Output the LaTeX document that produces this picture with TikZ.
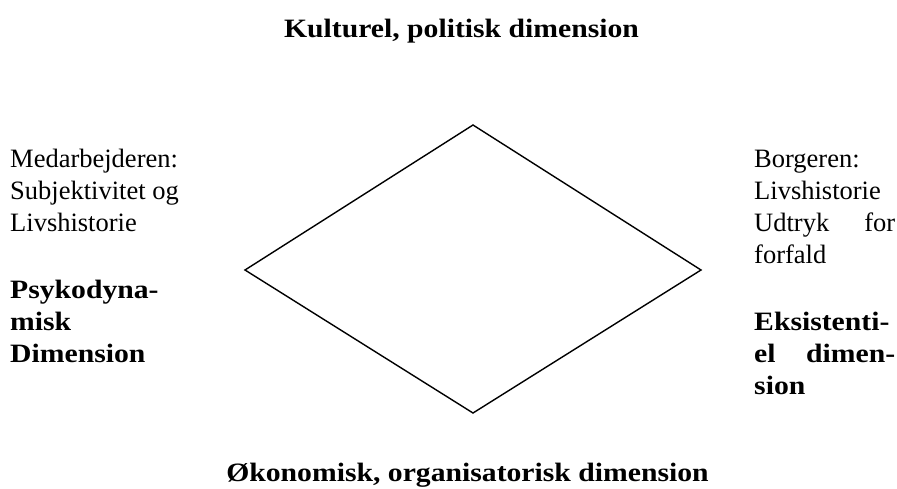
\documentclass[tikz,border=0pt]{standalone}
\usepackage{fontspec}
\setmainfont{Liberation Serif}[BoldFeatures={FakeStretch=1.12}]
\begin{document}
\begin{tikzpicture}[x=1pt,y=-1pt,
  txt/.style={inner sep=0pt, anchor=base west, font=\fontsize{26.5}{31}\selectfont},
  btxt/.style={txt, font=\fontsize{26.5}{31}\selectfont\bfseries},
  ttl/.style={inner sep=0pt, anchor=base, font=\fontsize{26.5}{31}\selectfont\bfseries},
  rhomb/.style={draw=black, line width=1.4pt, line join=miter}]
\useasboundingbox (0,0) rectangle (897,488);
% title texts
\node[ttl] (top) at (461.5,37) {Kulturel, politisk dimension};
\node[ttl] (bot) at (467.5,481) {Økonomisk, organisatorisk dimension};
% diamond
\coordinate (dT) at (473,125);
\coordinate (dR) at (701,270);
\coordinate (dB) at (473,413);
\coordinate (dL) at (245,270);
\draw[rhomb] (dT) -- (dR) -- (dB) -- (dL) -- cycle;
% left block
\node[txt] (l1) at (10,167) {Medarbejderen:};
\node[txt] (l2) at (10,199) {Subjektivitet og};
\node[txt] (l3) at (10,231) {Livshistorie};
\node[btxt] (l4) at (10,298) {Psykodyna-};
\node[btxt] (l5) at (10,330) {misk};
\node[btxt] (l6) at (10,362) {Dimension};
% right block
\node[txt] (r1) at (754,167) {Borgeren:};
\node[txt] (r2) at (754,199) {Livshistorie};
\node[txt] (r3) at (754,231) {\hbox to 141pt{Udtryk\hfill for}};
\node[txt] (r4) at (754,263) {forfald};
\node[btxt] (r5) at (754,330) {Eksistenti-};
\node[btxt] (r6) at (754,362) {\hbox to 141pt{el\hfill dimen-}};
\node[btxt] (r7) at (754,394) {sion};
\end{tikzpicture}
\end{document}
